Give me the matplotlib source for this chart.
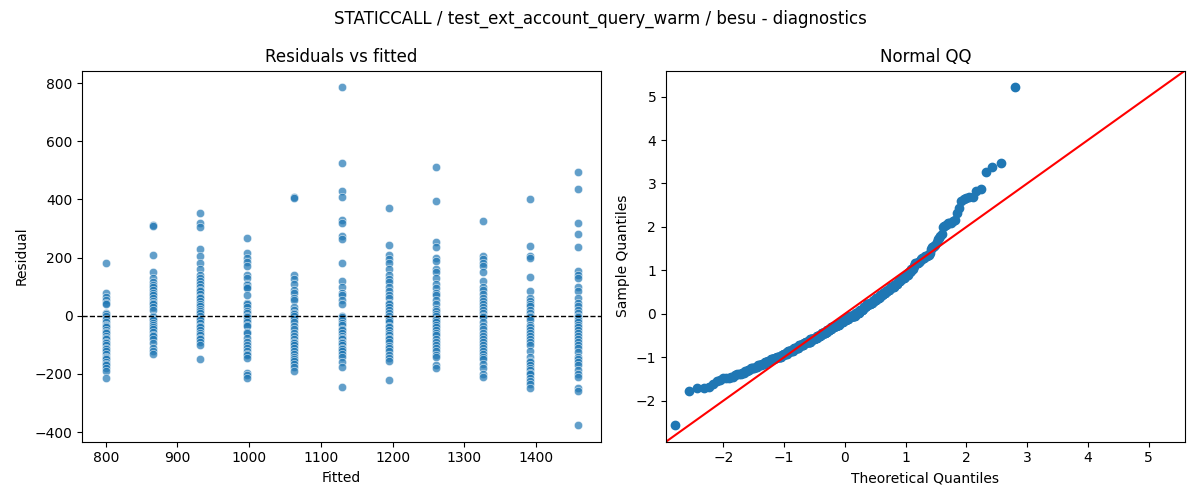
import numpy as np
import matplotlib
matplotlib.use("Agg")
import matplotlib.pyplot as plt
import seaborn as sns
from statistics import NormalDist

# fitted level of each column and residuals
fitted_levels = [800, 866, 932, 997, 1063, 1129, 1195, 1261, 1326, 1392, 1458]

residuals_by_level = [
    [183, 80, 65, 55, 45, 40, 10, 5, 0, -10, -20, -30, -35, -40, -50, -55, -60, -70,
     -75, -80, -90, -95, -100, -110, -115, -120, -130, -140, -145, -150, -160, -165,
     -170, -180, -190, -215],
    [312, 310, 208, 150, 130, 115, 105, 100, 90, 80, 70, 60, 50, 45, 40, 30, 20, 0,
     -5, -10, -15, -25, -30, -40, -45, -55, -65, -70, -80, -95, -110, -120, -130],
    [355, 320, 305, 230, 205, 180, 160, 140, 130, 120, 110, 100, 90, 85, 75, 65, 60,
     50, 40, 35, 25, 15, 10, 0, -10, -15, -25, -35, -40, -50, -60, -65, -75, -80,
     -90, -100, -150],
    [268, 215, 200, 185, 170, 140, 130, 110, 105, 100, 95, 70, 45, 40, 30, 15, 10, 0,
     -5, -15, -20, -30, -35, -55, -60, -75, -90, -100, -110, -120, -130, -135, -145,
     -195, -205, -215],
    [410, 405, 140, 125, 110, 90, 80, 60, 55, 30, 20, 10, 5, 0, -10, -20, -35, -45,
     -60, -70, -80, -90, -95, -100, -110, -120, -130, -140, -150, -155, -165, -175,
     -190],
    [785, 525, 430, 410, 330, 320, 275, 265, 180, 120, 100, 80, 70, 55, 40, 0, -5,
     -15, -25, -30, -45, -50, -60, -70, -75, -80, -90, -95, -100, -110, -115, -120,
     -130, -140, -160, -175, -245],
    [370, 245, 210, 195, 180, 160, 140, 125, 115, 100, 85, 70, 60, 45, 40, 30, 20, 10,
     0, -10, -15, -20, -35, -40, -50, -60, -65, -75, -80, -90, -105, -110, -120,
     -135, -145, -155, -220],
    [510, 395, 255, 235, 200, 190, 160, 150, 130, 110, 95, 80, 70, 55, 40, 25, 15, 5,
     0, -10, -15, -20, -30, -40, -50, -60, -65, -80, -90, -100, -110, -120, -135,
     -140, -170, -180],
    [325, 205, 195, 180, 170, 150, 120, 100, 90, 75, 60, 50, 40, 30, 20, 10, 0, -5,
     -20, -35, -45, -60, -70, -80, -90, -100, -110, -120, -130, -140, -150, -165,
     -180, -200, -210],
    [400, 240, 205, 200, 135, 85, 60, 50, 40, 35, 20, 10, 0, -5, -15, -30, -40, -50,
     -60, -70, -80, -90, -100, -120, -140, -155, -160, -170, -180, -185, -195, -200,
     -215, -225, -235, -250],
    [495, 435, 320, 280, 235, 155, 140, 130, 100, 85, 60, 45, 35, 20, 10, 0, -5, -15,
     -20, -30, -40, -50, -60, -70, -80, -90, -100, -110, -125, -140, -150, -160,
     -170, -185, -200, -210, -250, -260, -375],
]

fitted = []
resid = []
for lvl, vals in zip(fitted_levels, residuals_by_level):
    fitted += [lvl] * len(vals)
    resid += vals
fitted = np.array(fitted, dtype=float)
resid = np.array(resid, dtype=float)

fig, (ax1, ax2) = plt.subplots(1, 2, figsize=(12, 5), dpi=100)

# residuals vs fitted
sns.scatterplot(x=fitted, y=resid, alpha=0.7, ax=ax1)
ax1.axhline(0, color="black", linestyle="--", linewidth=1)
ax1.set_title("Residuals vs fitted")
ax1.set_xlabel("Fitted")
ax1.set_ylabel("Residual")

# normal QQ of standardised residuals
sample = np.sort((resid - resid.mean()) / resid.std())
n = len(sample)
theo = np.array([NormalDist().inv_cdf(i / (n + 1)) for i in range(1, n + 1)])
ax2.plot(theo, sample, "o", color="C0", markersize=6)
lo, hi = ax2.get_ylim()
ax2.plot([lo, hi], [lo, hi], color="red")
ax2.set_xlim(lo, hi)
ax2.set_ylim(lo, hi)
ax2.set_title("Normal QQ")
ax2.set_xlabel("Theoretical Quantiles")
ax2.set_ylabel("Sample Quantiles")

fig.suptitle("STATICCALL / test_ext_account_query_warm / besu - diagnostics")
fig.tight_layout()
fig.savefig("out.png")
